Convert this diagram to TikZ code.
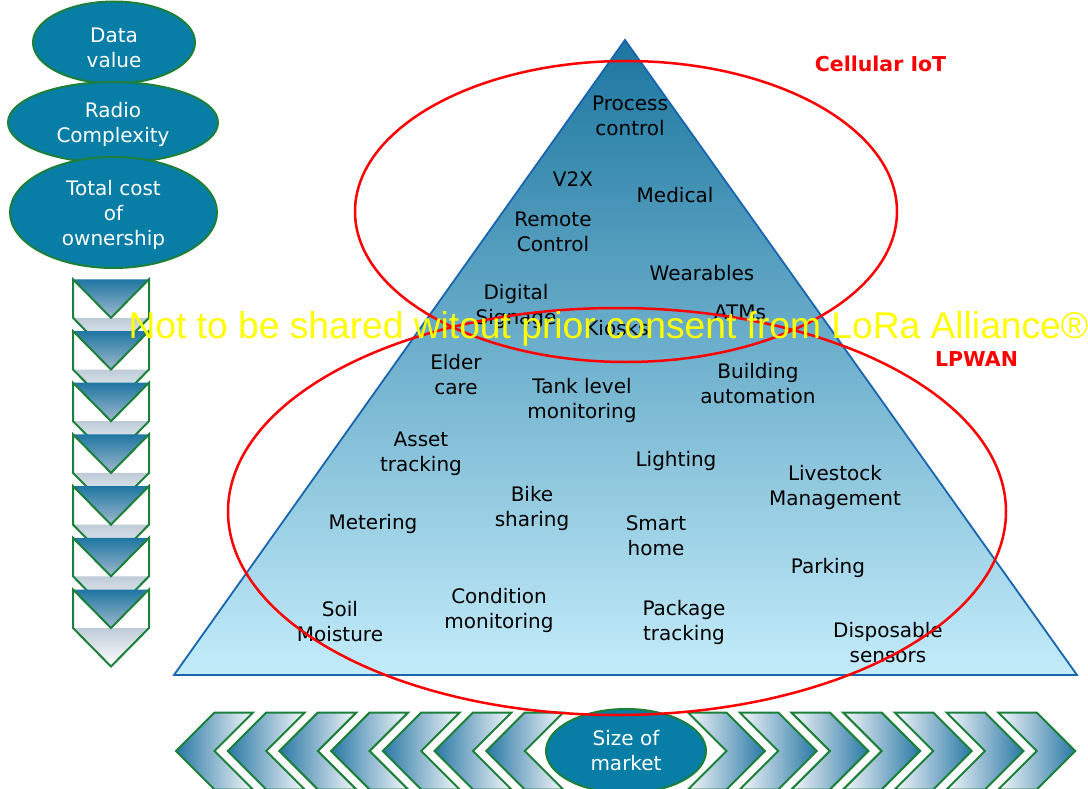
\documentclass[tikz,border=0pt]{standalone}
\usepackage{fontspec}
\setmainfont{DejaVu Sans}
\newfontfamily\marksans{Liberation Sans}
\usetikzlibrary{shapes.geometric}

\definecolor{bubblefill}{RGB}{8,125,166}
\definecolor{chevgreen}{RGB}{28,128,58}
\definecolor{pyrblue}{RGB}{25,100,175}
\definecolor{pyrtop}{RGB}{28,118,160}
\definecolor{pyrbottom}{RGB}{195,236,250}
\definecolor{chevdark}{RGB}{30,118,162}
\definecolor{chevmid}{RGB}{160,185,205}
\definecolor{bandtop}{RGB}{190,204,216}
\definecolor{hdark}{RGB}{40,120,165}
\definecolor{hlight}{RGB}{245,247,250}
\definecolor{notice}{RGB}{255,255,0}

\newcommand\itemfont{\fontsize{20}{25}\selectfont}
\newcommand\zonefont{\bfseries\fontsize{20.5}{24}\selectfont}

\begin{document}
\begin{tikzpicture}[x=1pt,y=-1pt,
  bubble/.style={ellipse, draw=chevgreen, line width=2pt, fill=bubblefill,
    inner sep=0pt, text=white, font=\itemfont, align=center},
  bubbletext/.style={text=white, font=\itemfont, align=center, inner sep=0pt},
  item/.style={anchor=north, align=center, font=\itemfont, inner sep=0pt, text=black},
  zone/.style={ellipse, draw=red, line width=2.5pt, inner sep=0pt},
  zonelabel/.style={anchor=base, text=red, font=\zonefont, inner sep=0pt},
  chevline/.style={draw=chevgreen, line width=2pt, line join=miter}]

\useasboundingbox (0,0) rectangle (1088,789);

% ---- downward chevron column ----
\foreach \k in {0,...,6} {
  \pgfmathsetmacro\t{279.3+51.7*\k}
  \fill[white] (73,\t) -- (111,\t+38.5) -- (149,\t) -- (149,\t+38.5)
    -- (111,\t+77) -- (73,\t+38.5) -- cycle;
  \shade[top color=bandtop, bottom color=white]
    (73,\t+38.5) -- (149,\t+38.5) -- (111,\t+77) -- cycle;
  \shade[top color=chevdark, bottom color=chevmid]
    (73,\t) -- (149,\t) -- (111,\t+38.5) -- cycle;
  \draw[chevline] (73,\t) -- (111,\t+38.5) -- (149,\t) -- (149,\t+38.5)
    -- (111,\t+77) -- (73,\t+38.5) -- cycle;
}

% ---- horizontal chevron row ----
\foreach \k in {0,...,6} {
  \pgfmathsetmacro\a{176+51.7*\k}
  \draw[chevline, left color=hdark, right color=hlight]
    (\a,751) -- (\a+38.5,712.5) -- (\a+77,712.5) -- (\a+38.5,751)
    -- (\a+77,789.5) -- (\a+38.5,789.5) -- cycle;
  \pgfmathsetmacro\b{688+51.7*\k}
  \draw[chevline, left color=hlight, right color=hdark]
    (\b,712.5) -- (\b+38.5,712.5) -- (\b+77,751) -- (\b+38.5,789.5)
    -- (\b,789.5) -- (\b+38.5,751) -- cycle;
}

% ---- metric bubbles ----
\node[bubble, minimum width=162pt, minimum height=82pt,
  label={[bubbletext, yshift=-5pt]center:{Data\\value}}] (value) at (114,42.5) {};
\node[bubble, minimum width=210pt, minimum height=81pt,
  label={[bubbletext, yshift=-2pt]center:{Radio\\Complexity}}] (radio) at (113,122.5) {};
\node[bubble, minimum width=207pt, minimum height=111pt,
  label={[bubbletext, yshift=-2pt]center:{Total cost\\of\\ownership}}] (cost) at (113.5,212.5) {};
\node[bubble, minimum width=160pt, minimum height=84pt] (size) at (626,751) {Size of\\market};

% ---- pyramid ----
\draw[draw=pyrblue, line width=1.8pt, line join=miter, top color=pyrtop, bottom color=pyrbottom]
  (625,40) coordinate (apex) -- (1077,675) coordinate (baseR)
  -- (174,675) coordinate (baseL) -- cycle;

% ---- applications ----
\node[item] (process)   at (630,96)  {Process\\control};
\node[item] (v2x)       at (573,171) {V2X};
\node[item] (medical)   at (675,187) {Medical};
\node[item] (remote)    at (553,212) {Remote\\Control};
\node[item] (wearables) at (702,265) {Wearables};
\node[item] (signage)   at (516,284) {Digital\\Signage};
\node[item] (kiosks)    at (617,320) {Kiosks};
\node[item] (atms)      at (740,305) {ATMs};
\node[item] (elder)     at (456,354) {Elder\\care};
\node[item] (tank)      at (582,378) {Tank level\\monitoring};
\node[item] (building)  at (758,363) {Building\\automation};
\node[item] (asset)     at (421,432) {Asset\\tracking};
\node[item] (lighting)  at (676,451) {Lighting};
\node[item] (livestock) at (835,465) {Livestock\\Management};
\node[item] (bike)      at (532,486) {Bike\\sharing};
\node[item] (metering)  at (373,514) {Metering};
\node[item] (smart)     at (656,515) {Smart\\home};
\node[item] (parking)   at (828,558) {Parking};
\node[item] (soil)      at (340,601) {Soil\\Moisture};
\node[item] (condition) at (499,588) {Condition\\monitoring};
\node[item] (package)   at (684,600) {Package\\tracking};
\node[item] (disposable) at (888,622) {Disposable\\sensors};

% ---- technology zones ----
\node[zone, minimum width=542pt, minimum height=301pt] (cellular) at (626,211.5) {};
\node[zone, minimum width=778pt, minimum height=407pt] (lpwan) at (617,511.5) {};
\node[zonelabel] (cellulartag) at (880.5,71.7) {Cellular IoT};
\node[zonelabel] (lpwantag) at (976.5,366.7) {LPWAN};

% ---- notice ----
\node[anchor=base, text=notice, inner sep=0pt,
  font=\marksans\fontsize{37.2}{40}\selectfont] (noticetext) at (608.5,338.3)
  {Not to be shared witout prior consent from LoRa Alliance®};
\end{tikzpicture}
\end{document}
